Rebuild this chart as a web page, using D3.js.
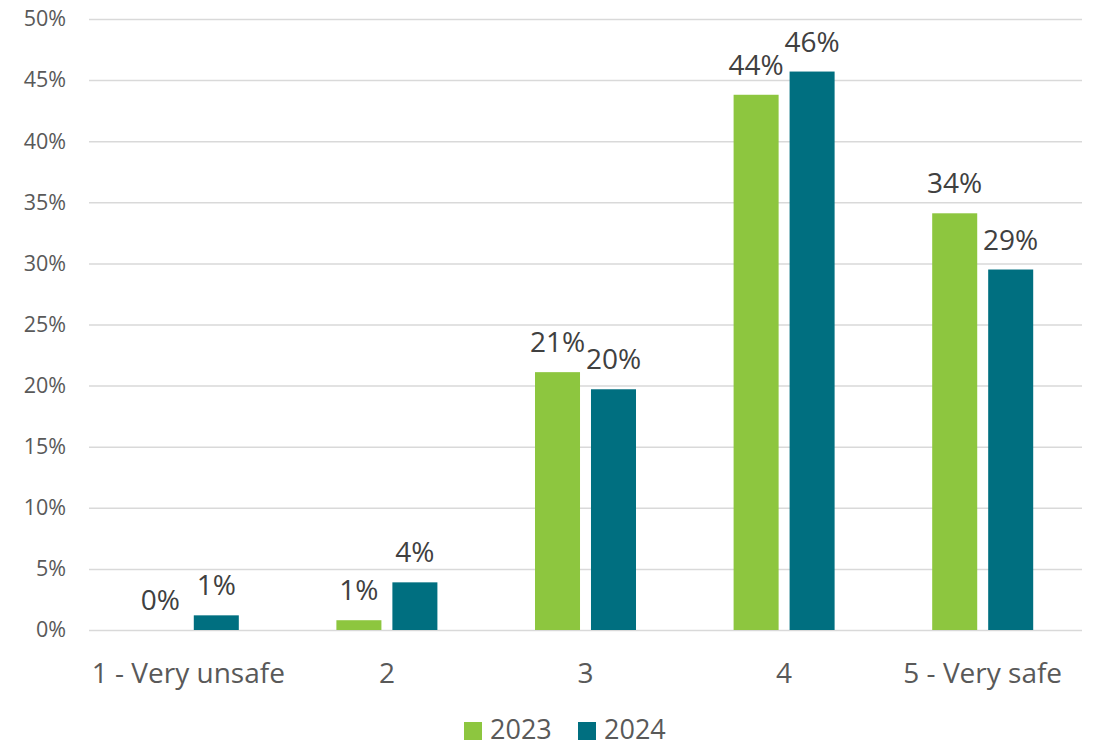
<!DOCTYPE html>
<html><head><meta charset="utf-8">
<script src="https://cdn.jsdelivr.net/npm/d3@7"></script>
<style>
html,body{margin:0;padding:0;background:#fff;}
svg{display:block;font-family:"Open Sans",sans-serif;}
</style></head>
<body>
<script>
const categories = ["1 - Very unsafe", "2", "3", "4", "5 - Very safe"];
const series = ["2023", "2024"];
const values2023 = [0.0, 0.8, 21.1, 43.8, 34.1];
const values2024 = [1.2, 3.9, 19.7, 45.7, 29.5];
const labels2023 = ["0%", "1%", "21%", "44%", "34%"];
const labels2024 = ["1%", "4%", "20%", "46%", "29%"];
const yTicks = [0, 5, 10, 15, 20, 25, 30, 35, 40, 45, 50];
const colors = ["#8DC63F", "#006F80"];

const W = 1094, H = 747;
const plot = {left: 89, right: 1082, top: 19, bottom: 630};
const FONT = "'Open Sans',sans-serif";

const svg = d3.select("body").append("svg").attr("width", W).attr("height", H);

const x0 = d3.scaleBand().domain(categories).range([plot.left, plot.right]).padding(0);
const step = x0.step();
const x1 = d3.scaleBand().domain(series)
  .range([step * 0.2457, step * 0.7543]).paddingInner(0.196).paddingOuter(0);
const y = d3.scaleLinear().domain([0, 50]).range([plot.bottom, plot.top]);

// grid
const yAxis = d3.axisLeft(y).tickValues(yTicks).tickFormat(d => d + "%")
  .tickSize(-(plot.right - plot.left)).tickPadding(23);
const gy = svg.append("g").attr("transform", `translate(${plot.left},0)`).call(yAxis);
gy.select(".domain").remove();
gy.selectAll(".tick line").attr("stroke", "#d9d9d9").attr("stroke-width", 1.5);
gy.selectAll(".tick text").attr("fill", "#595959").attr("font-size", 21.5)
  .attr("font-family", FONT);

const data = categories.map((c, i) => ({
  cat: c,
  vals: [
    {s: series[0], v: values2023[i], l: labels2023[i]},
    {s: series[1], v: values2024[i], l: labels2024[i]}
  ]
}));

const groups = svg.append("g").selectAll("g").data(data).join("g")
  .attr("transform", d => `translate(${x0(d.cat)},0)`);

groups.selectAll("rect").data(d => d.vals).join("rect")
  .attr("x", d => x1(d.s))
  .attr("width", x1.bandwidth())
  .attr("y", d => y(d.v))
  .attr("height", d => y(0) - y(d.v))
  .attr("fill", (d, i) => colors[i]);

groups.selectAll("text").data(d => d.vals).join("text")
  .attr("x", d => x1(d.s) + x1.bandwidth() / 2)
  .attr("y", d => y(d.v) - 20)
  .attr("text-anchor", "middle")
  .attr("font-size", 28)
  .attr("font-family", FONT)
  .attr("fill", "#404040")
  .text(d => d.l);

// x axis labels
const xAxis = d3.axisBottom(x0).tickSize(0).tickPadding(33);
const gx = svg.append("g").attr("transform", `translate(0,${plot.bottom})`).call(xAxis);
gx.select(".domain").remove();
gx.selectAll(".tick text").attr("fill", "#595959").attr("font-size", 28)
  .attr("font-family", FONT);

// legend
const legend = svg.append("g");
const legX = [464, 578];
series.forEach((s, i) => {
  legend.append("rect").attr("x", legX[i]).attr("y", 722).attr("width", 18).attr("height", 18)
    .attr("fill", colors[i]);
  legend.append("text").attr("x", legX[i] + 26).attr("y", 739)
    .attr("font-size", 27).attr("font-family", FONT).attr("fill", "#595959").text(s);
});
</script>
</body></html>
